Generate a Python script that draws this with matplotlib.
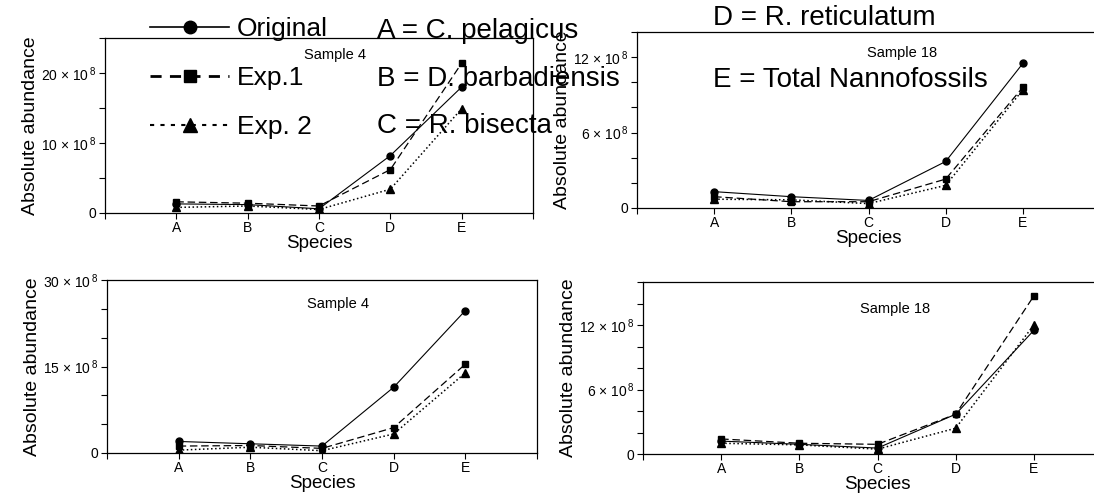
import matplotlib
matplotlib.use("Agg")
import matplotlib.pyplot as plt
from matplotlib.lines import Line2D

plt.rcParams["font.family"] = ["Liberation Sans", "DejaVu Sans"]
plt.rcParams["mathtext.fontset"] = "custom"
plt.rcParams["mathtext.rm"] = "Liberation Sans"
plt.rcParams["mathtext.it"] = "Liberation Sans"

species = ["A", "B", "C", "D", "E"]

# values in units of 10^8
s4_top_orig = [1.3, 1.2, 0.6, 8.2, 18.0]
s4_top_exp1 = [1.6, 1.4, 1.0, 6.2, 21.4]
s4_top_exp2 = [0.8, 1.0, 0.5, 3.4, 14.9]

s18_top_orig = [1.3, 0.9, 0.6, 3.7, 11.5]
s18_top_exp1 = [0.9, 0.5, 0.5, 2.3, 9.6]
s18_top_exp2 = [0.7, 0.65, 0.35, 1.8, 9.4]

s4_bot_orig = [2.0, 1.6, 1.2, 11.4, 24.7]
s4_bot_exp1 = [1.2, 1.3, 0.8, 4.4, 15.4]
s4_bot_exp2 = [0.5, 1.0, 0.4, 3.3, 13.9]

s18_bot_orig = [1.2, 0.9, 0.55, 3.7, 11.5]
s18_bot_exp1 = [1.4, 1.0, 0.9, 3.7, 14.7]
s18_bot_exp2 = [1.0, 0.85, 0.45, 2.4, 12.0]

legend_labels = ["Original", "Exp.1", "Exp. 2"]
key_left = ["A = C. pelagicus", "B = D. barbadiensis", "C = R. bisecta"]
key_right = ["D = R. reticulatum", "E = Total Nannofossils"]

W, H = 1094, 500
fig = plt.figure(figsize=(W / 100, H / 100), dpi=100)


def box(left, top, right, bottom):
    return [left / W, 1 - bottom / H, (right - left) / W, (bottom - top) / H]


def panel(rect, orig, exp1, exp2, ymax, step, labelled, title, title_xy):
    ax = fig.add_axes(rect)
    x = range(1, 6)
    ax.plot(x, orig, "k-", lw=0.8, marker="o", ms=5)
    ax.plot(x, exp1, "k--", lw=0.9, marker="s", ms=5, dashes=(6, 3))
    ax.plot(x, exp2, "k:", lw=1.1, marker="^", ms=5.5)
    ax.set_xlim(0, 6)
    ax.set_ylim(0, ymax)
    ax.set_xticks(range(0, 7))
    ax.set_xticklabels([""] + species + [""], fontsize=10)
    yt = [i * step for i in range(int(ymax / step) + 1)]
    ax.set_yticks(yt)
    labs = []
    for v in yt:
        if v == 0:
            labs.append("0")
        elif v in labelled:
            labs.append(f"{v:g} × 10$^{{\\,8}}$")
        else:
            labs.append("")
    ax.set_yticklabels(labs, fontsize=10)
    ax.tick_params(direction="out", length=4, width=0.8, pad=2)
    for sp in ax.spines.values():
        sp.set_linewidth(0.9)
    ax.set_xlabel("Species", fontsize=13.5, labelpad=0)
    ax.set_ylabel("Absolute abundance", fontsize=14, labelpad=2)
    fig.text(title_xy[0] / W, 1 - title_xy[1] / H, title, fontsize=10.5,
             ha="center", va="center")
    return ax


panel(box(105, 38, 533, 213), s4_top_orig, s4_top_exp1, s4_top_exp2,
      25, 5, [10, 20], "Sample 4", (335, 55))
panel(box(637, 32, 1100, 208), s18_top_orig, s18_top_exp1, s18_top_exp2,
      14, 2, [6, 12], "Sample 18", (902, 53))
panel(box(107, 280, 537, 453), s4_bot_orig, s4_bot_exp1, s4_bot_exp2,
      30, 5, [15, 30], "Sample 4", (338, 304))
panel(box(643, 282, 1112, 454), s18_bot_orig, s18_bot_exp1, s18_bot_exp2,
      16, 2, [6, 12], "Sample 18", (895, 309))

handles = [
    Line2D([], [], color="k", lw=1.2, marker="o", ms=9),
    Line2D([], [], color="k", lw=2, ls="--", dashes=(4, 3), marker="s", ms=9),
    Line2D([], [], color="k", lw=1.5, ls=":", dashes=(2, 3), marker="^", ms=10),
]
fig.legend(handles, legend_labels, loc="upper left",
           bbox_to_anchor=(150 / W, 1 - 17 / H), frameon=False, fontsize=19,
           handlelength=3.0, handletextpad=0.3, labelspacing=0.95,
           borderpad=0, borderaxespad=0)

for i, t in enumerate(key_left):
    fig.text(377 / W, 1 - (31 + i * 47.5) / H, t, fontsize=20, va="center")
for i, t in enumerate(key_right):
    fig.text(713 / W, 1 - (18 + i * 62) / H, t, fontsize=20, va="center")

fig.savefig("out.png", dpi=100)
